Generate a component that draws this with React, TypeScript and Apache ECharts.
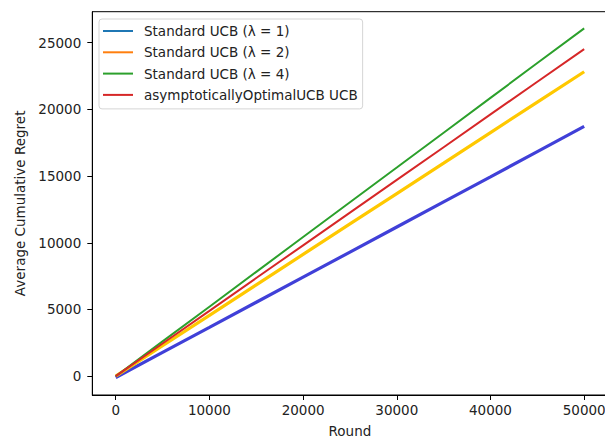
import React, { useEffect, useRef } from "react";
import * as echarts from "echarts";

const rounds = [0, 5000, 10000, 15000, 20000, 25000, 30000, 35000, 40000, 45000, 50000];
const ucbLambda1 = [-100, 1790, 3660, 5540, 7420, 9300, 11180, 13060, 14940, 16830, 18720];
const ucbLambda2 = [0, 2280, 4560, 6850, 9130, 11410, 13690, 15970, 18260, 20540, 22820];
const ucbLambda4 = [0, 2610, 5210, 7820, 10430, 13040, 15640, 18250, 20860, 23470, 26070];
const asymOptimal = [0, 2450, 4900, 7360, 9810, 12260, 14710, 17160, 19620, 22070, 24520];

const seriesNames = [
  "Standard UCB (λ = 1)",
  "Standard UCB (λ = 2)",
  "Standard UCB (λ = 4)",
  "asymptoticallyOptimalUCB UCB",
];
const xTicks = [0, 10000, 20000, 30000, 40000, 50000];
const yTicks = [0, 5000, 10000, 15000, 20000, 25000];

const FONT = "DejaVu Sans";
const TEXT = "#222";
const FS = 13.5;
const LEGEND_ICON = "path://M0,0 L0,0 M0,6.5 L30,6.5 L30,8.5 L0,8.5 Z M30,15 L30,15";

export default function App() {
  const ref = useRef<HTMLDivElement>(null);
  useEffect(() => {
    if (!ref.current) return;
    const chart = echarts.init(ref.current, null, { renderer: "svg" });
    const pair = (ys: number[]) => rounds.map((r, i) => [r, ys[i]]);
    const lineColors = ["#4040d8", "#ffc800", "#2ca02c", "#d62728"];
    const lineWidths = [3.2, 3.2, 2, 2];
    const legendColors = ["#1f77b4", "#ff7f0e", "#2ca02c", "#d62728"];
    const datasets = [ucbLambda1, ucbLambda2, ucbLambda4, asymOptimal];
    chart.setOption({
      animation: false,
      backgroundColor: "#fff",
      grid: {
        left: 92.3,
        right: -2.6,
        top: 11.7,
        bottom: 45,
        show: true,
        borderColor: "#000",
        borderWidth: 1,
        backgroundColor: "transparent",
        containLabel: false,
        outerBoundsMode: "none",
      },
      legend: {
        orient: "vertical",
        left: 99,
        top: 19,
        padding: [4.5, 5, 6.5, 4],
        itemGap: 6.3,
        itemWidth: 30,
        itemHeight: 15,
        icon: LEGEND_ICON,
        backgroundColor: "rgba(255,255,255,0.85)",
        borderColor: "#d5d5d5",
        borderWidth: 1,
        borderRadius: 3,
        textStyle: {
          fontFamily: FONT,
          fontSize: FS,
          lineHeight: 15,
          color: TEXT,
          padding: [0, 0, 0, 6],
        },
        data: seriesNames.map((n, i) => ({
          name: n,
          itemStyle: { color: legendColors[i] },
        })),
      },
      xAxis: {
        type: "value",
        min: -2500,
        max: 52500,
        name: "Round",
        nameLocation: "middle",
        nameGap: 29,
        nameTextStyle: { fontFamily: FONT, fontSize: FS, color: TEXT },
        axisLine: { show: true, onZero: false, lineStyle: { color: "#000", width: 1 } },
        axisTick: { show: true, length: 5, lineStyle: { color: "#000" }, customValues: xTicks },
        axisLabel: {
          fontFamily: FONT,
          fontSize: FS,
          color: TEXT,
          margin: 8,
          customValues: xTicks,
          formatter: (v: number) => String(v),
        },
        splitLine: { show: false },
      },
      yAxis: {
        type: "value",
        min: -1410,
        max: 27320,
        name: "Average Cumulative Regret",
        nameLocation: "middle",
        nameGap: 63,
        nameTextStyle: { fontFamily: FONT, fontSize: FS, color: TEXT },
        axisLine: { show: true, onZero: false, lineStyle: { color: "#000", width: 1 } },
        axisTick: { show: true, length: 5, lineStyle: { color: "#000" }, customValues: yTicks },
        axisLabel: {
          fontFamily: FONT,
          fontSize: FS,
          color: TEXT,
          margin: 11,
          customValues: yTicks,
          formatter: (v: number) => String(v),
        },
        splitLine: { show: false },
      },
      series: datasets.map((d, i) => ({
        name: seriesNames[i],
        type: "line",
        data: pair(d),
        showSymbol: false,
        symbol: "none",
        itemStyle: { color: lineColors[i] },
        lineStyle: { color: lineColors[i], width: lineWidths[i] },
      })),
    });
    return () => chart.dispose();
  }, []);
  return (
    <div
      ref={ref}
      style={{ position: "fixed", left: 0, top: 0, width: 605, height: 440 }}
    />
  );
}
